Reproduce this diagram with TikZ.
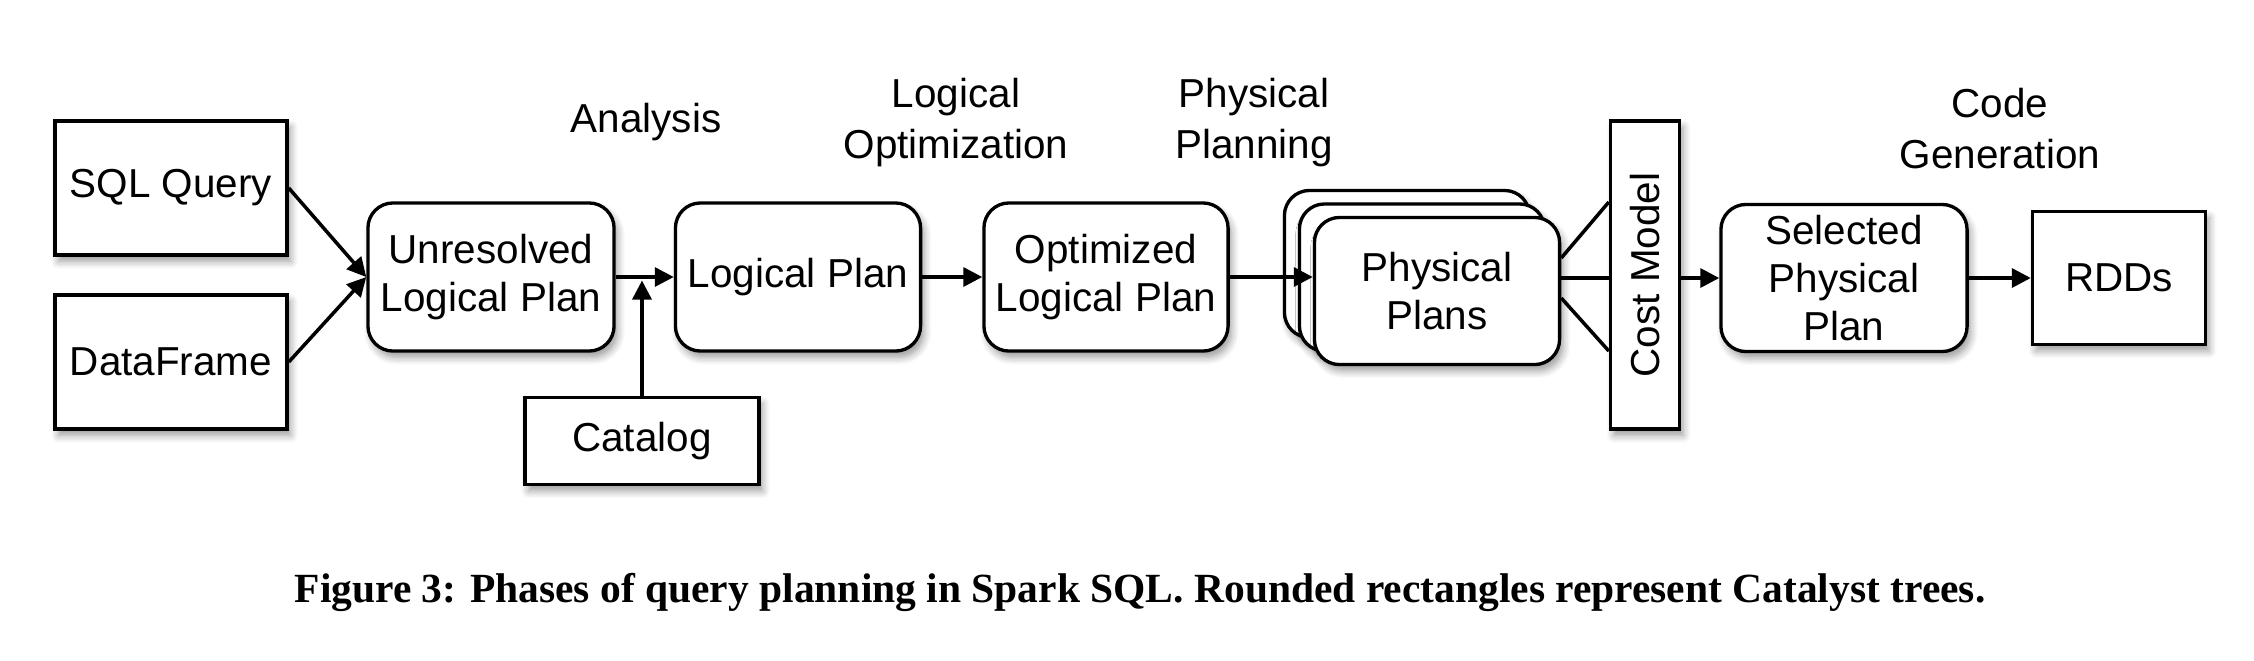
\documentclass[tikz,border=0pt]{standalone}
\usepackage{fontspec}
\setmainfont{Liberation Sans}
\newfontfamily\capfont{Liberation Serif}
\usetikzlibrary{arrows.meta,calc,shadows.blur}

\def\treew{2.45cm}
\def\treeh{1.48cm}

\tikzset{
  stage/.style={draw,line width=0.95pt,fill=white,align=center,inner sep=2pt,
    font=\fontsize{11.5}{13.6}\selectfont,
    blur shadow={shadow xshift=1pt,shadow yshift=-1.8pt,shadow blur steps=6,shadow opacity=40}},
  tree/.style={stage,rounded corners=0.25cm,minimum width=\treew,minimum height=\treeh},
  data/.style={stage,minimum width=2.32cm,minimum height=1.34cm},
  phase/.style={align=center,font=\fontsize{11.5}{14.5}\selectfont},
  flow/.style={line width=1pt,-{Triangle[length=0.19cm,width=0.19cm]}},
  link/.style={line width=1pt}
}

\begin{document}
\begin{tikzpicture}[x=0.01cm,y=-0.01cm]
  \useasboundingbox (0,0) rectangle (2254,660);
  % inputs
  \node[data] (sql) at (171,188) {SQL Query};
  \node[data] (df) at (171,362) {DataFrame};
  \node[data,minimum width=2.34cm,minimum height=0.87cm] (catalog) at (642,441) {Catalog};
  % catalyst trees
  \node[tree,minimum width=2.46cm] (unres) at (491,277) {Unresolved\\Logical Plan};
  \node[tree] (logical) at (798,277) {Logical Plan};
  \node[tree,minimum width=2.44cm] (optim) at (1106,277) {Optimized\\Logical Plan};
  \foreach \k in {2,1}                    % plans stacked behind the front one
    \node[tree,minimum height=1.47cm] (plan\k) at (1437-15*\k,291-13.5*\k) {};
  \node[tree,minimum height=1.47cm] (phys) at (1437,291) {Physical\\Plans};
  \node[stage,rotate=90,minimum width=3.08cm,minimum height=0.69cm,inner sep=0pt] (cost) at (1645,275) {Cost Model};
  \node[tree,minimum width=2.46cm,minimum height=1.47cm] (sel) at (1844,278) {Selected\\Physical\\Plan};
  \node[data,minimum width=1.73cm,minimum height=1.33cm] (rdd) at (2119,278) {RDDs};
  % phase labels
  \node[phase] (analysis) at (646,122) {Analysis};
  \node[phase] (logopt) at (956,123) {Logical\\Optimization};
  \node[phase] (physplan) at (1254,123) {Physical\\Planning};
  \node[phase] (codegen) at (2000,129) {Code\\Generation};
  % arrows
  \draw[flow] (sql.east) -- (unres.west);
  \draw[flow] (df.east) -- (unres.west);
  \draw[flow] (unres) -- (logical);
  \draw[flow,shorten >=1pt] (catalog) -- (catalog |- unres.east);
  \draw[flow] (logical) -- (optim);
  \draw[flow] (optim.east) -- (phys.west |- optim.east);
  \foreach \a/\b in {-33/-73,-13/3,7/76}  % fan into the cost model
    \draw[link] ($(phys.east)+(0,\a)$) -- ($(cost.north)+(0,\b)$);
  \draw[flow] (cost.south |- sel.west) -- (sel.west);
  \draw[flow] (sel) -- (rdd);
  % caption
  \node[font=\capfont\bfseries\fontsize{11.8}{14}\selectfont] (caption) at (1140,592)
    {Figure 3: Phases of query planning in Spark SQL. Rounded rectangles represent Catalyst trees.};
\end{tikzpicture}
\end{document}
